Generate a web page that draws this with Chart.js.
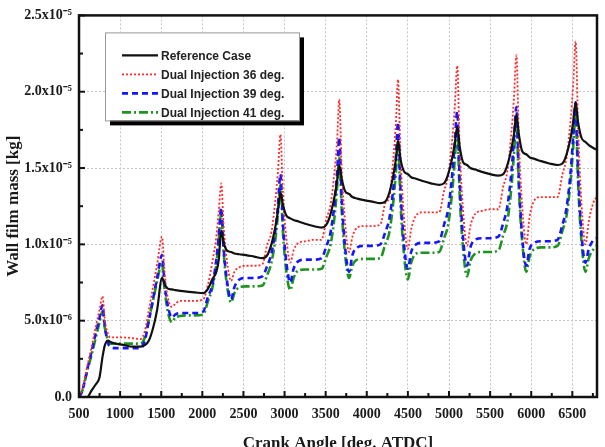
<!DOCTYPE html>
<html>
<head>
<meta charset="utf-8">
<script src="https://cdn.jsdelivr.net/npm/chart.js@4.4.1/dist/chart.umd.min.js"></script>
<style>
  html, body { margin: 0; padding: 0; background: #fff; }
</style>
</head>
<body>
<canvas id="filmChart" width="605" height="447"></canvas>
<script>
// crank angle [deg. ATDC]
var crankAngle = [
  500, 540, 600, 650, 700, 750, 785, 815, 855, 880, 950, 1050, 1150, 1250, 1300, 1350, 1400, 1450,
  1510, 1540, 1580, 1630, 1670, 1730, 1810, 1910, 2010, 2070, 2120, 2170, 2200,
  2230, 2260, 2300, 2350, 2390, 2450, 2530, 2630, 2730, 2790, 2840, 2890, 2920,
  2950, 2980, 3020, 3070, 3110, 3170, 3250, 3350, 3450, 3510, 3560, 3610, 3640,
  3665, 3695, 3735, 3785, 3825, 3885, 3965, 4065, 4165, 4225, 4275, 4325, 4355,
  4380, 4410, 4450, 4500, 4540, 4600, 4680, 4780, 4880, 4940, 4990, 5040, 5070,
  5100, 5130, 5170, 5220, 5260, 5320, 5400, 5500, 5600, 5660, 5710, 5760, 5790,
  5820, 5850, 5890, 5940, 5980, 6040, 6120, 6220, 6320, 6380, 6430, 6480, 6510,
  6540, 6570, 6610, 6660, 6700, 6760, 6800
];

// wall film mass, in units of 1e-6 kg
var refCase = [
  0, 0, 0, 0.4, 0.8, 1.3, 2.6, 3.4, 3.7, 3.6, 3.5, 3.4, 3.3, 3.3, 3.4, 3.7, 4.5, 5.7,
  7.8, 7.4, 7.1, 7.05, 7.0, 6.95, 6.9, 6.85, 6.8, 7.1, 7.7, 8.2, 9.0,
  10.9, 10.1, 9.6, 9.5, 9.4, 9.35, 9.3, 9.2, 9.1, 9.3, 10.0, 11.2, 12.2,
  13.4, 12.6, 11.9, 11.7, 11.6, 11.5, 11.35, 11.2, 11.1, 11.3, 12.0, 13.2, 14.2,
  15.2, 14.3, 13.5, 13.3, 13.1, 13.0, 12.9, 12.8, 12.7, 12.8, 13.4, 14.6, 15.6,
  16.8, 15.6, 14.8, 14.6, 14.4, 14.3, 14.15, 14.0, 13.9, 14.0, 14.6, 15.7, 16.6,
  17.7, 16.4, 15.4, 15.2, 15.0, 14.9, 14.75, 14.6, 14.5, 14.6, 15.2, 16.3, 17.2,
  18.5, 17.2, 16.1, 15.9, 15.7, 15.6, 15.45, 15.3, 15.2, 15.3, 15.9, 17.0, 18.0,
  19.3, 18.0, 17.0, 16.7, 16.5, 16.3, 16.2
];
var dual36 = [
  0, 0.5, 2.0, 3.2, 4.5, 5.7, 6.6, 5.0, 4.1, 3.9, 3.9, 3.9, 3.85, 3.8, 4.3, 5.7, 7.2, 8.7,
  10.5, 8.2, 6.5, 5.9, 6.1, 6.3, 6.3, 6.3, 6.4, 7.4, 8.8, 10.5, 12.2,
  14.0, 11.1, 8.9, 7.6, 8.2, 8.5, 8.6, 8.6, 8.7, 10.0, 10.8, 13.0, 14.8,
  17.2, 13.4, 10.5, 8.8, 9.6, 10.1, 10.2, 10.3, 10.3, 11.7, 12.6, 14.9, 16.9,
  19.5, 15.0, 11.5, 9.5, 10.5, 11.1, 11.2, 11.2, 11.3, 12.7, 13.1, 15.8, 18.0,
  20.8, 15.8, 11.9, 9.7, 11.0, 11.9, 12.1, 12.1, 12.1, 13.5, 14.5, 16.9, 19.0,
  21.7, 16.4, 12.3, 9.9, 11.2, 12.0, 12.2, 12.3, 12.3, 13.8, 14.8, 17.4, 19.6,
  22.4, 16.8, 12.5, 10.0, 11.8, 12.9, 13.1, 13.1, 13.1, 14.6, 15.7, 18.2, 20.4,
  23.3, 17.7, 12.8, 10.0, 11.5, 12.8, 13.1
];
var dual39 = [
  0, 0.4, 1.8, 2.9, 4.1, 5.2, 6.0, 4.6, 3.5, 3.3, 3.2, 3.2, 3.2, 3.2, 3.7, 5.0, 6.4, 7.8,
  9.3, 7.5, 6.0, 5.2, 5.4, 5.5, 5.5, 5.5, 5.6, 6.6, 7.3, 9.0, 10.6,
  12.4, 9.7, 7.6, 6.4, 7.2, 7.7, 7.8, 7.8, 7.9, 8.6, 9.4, 11.0, 12.6,
  14.6, 11.4, 8.9, 7.5, 8.4, 8.9, 9.0, 9.0, 9.1, 9.9, 10.8, 12.8, 14.8,
  17.0, 13.0, 9.9, 8.2, 9.3, 9.8, 9.9, 9.9, 10.0, 10.8, 11.7, 13.8, 15.8,
  18.0, 13.7, 10.2, 8.4, 9.5, 10.0, 10.1, 10.1, 10.2, 11.3, 12.3, 14.6, 16.6,
  18.7, 14.2, 10.5, 8.6, 9.8, 10.3, 10.4, 10.4, 10.5, 11.4, 12.5, 14.8, 16.9,
  19.0, 14.3, 10.5, 8.6, 9.7, 10.1, 10.2, 10.2, 10.3, 11.3, 12.4, 14.8, 17.0,
  19.3, 14.8, 10.8, 8.8, 9.7, 10.3, 10.4
];
var dual41 = [
  0, 0.4, 1.7, 2.7, 3.8, 4.9, 5.6, 4.5, 3.7, 3.5, 3.5, 3.5, 3.5, 3.5, 3.9, 5.1, 6.3, 7.6,
  8.8, 7.1, 5.6, 4.9, 5.2, 5.3, 5.35, 5.35, 5.4, 6.3, 7.1, 8.7, 10.3,
  12.0, 9.4, 7.3, 6.2, 6.8, 7.2, 7.25, 7.25, 7.3, 8.0, 8.8, 10.4, 12.0,
  13.9, 10.8, 8.3, 7.0, 7.8, 8.3, 8.35, 8.35, 8.4, 9.2, 10.0, 11.9, 13.8,
  15.8, 12.2, 9.4, 7.8, 8.6, 9.0, 9.05, 9.05, 9.1, 10.0, 10.8, 12.9, 14.8,
  16.8, 12.7, 9.5, 7.7, 8.8, 9.4, 9.45, 9.45, 9.5, 10.4, 11.3, 13.5, 15.5,
  17.5, 13.2, 9.8, 7.9, 8.9, 9.4, 9.5, 9.5, 9.6, 10.6, 11.5, 13.8, 15.9,
  18.0, 13.6, 10.2, 8.2, 9.2, 9.7, 9.8, 9.8, 9.9, 10.9, 11.9, 14.2, 16.3,
  18.5, 14.0, 10.3, 8.2, 9.1, 9.7, 9.9
];

var seriesNames = ["Reference Case", "Dual Injection 36 deg.", "Dual Injection 39 deg.", "Dual Injection 41 deg."];

var xTickValues = [500, 1000, 1500, 2000, 2500, 3000, 3500, 4000, 4500, 5000, 5500, 6000, 6500];
var yTickValues = [0, 5, 10, 15, 20, 25];
var yTickLabels = ["0.0", "5.0x10\u207B\u2076", "1.0x10\u207B\u2075", "1.5x10\u207B\u2075", "2.0x10\u207B\u2075", "2.5x10\u207B\u2075"];

function points(values) {
  return crankAngle.map(function (x, i) { return { x: x, y: values[i] }; });
}

var serif = "'Liberation Serif', 'Times New Roman', serif";

// frame, inward ticks, axis titles and the boxed legend
var extras = {
  id: 'extras',
  afterDraw: function (chart) {
    var ctx = chart.ctx;
    var a = chart.chartArea;
    var xs = chart.scales.x, ys = chart.scales.y;
    ctx.save();

    ctx.strokeStyle = '#111';
    ctx.lineWidth = 2;
    var i, px, py;
    for (i = 0; i < xTickValues.length; i++) {
      px = xs.getPixelForValue(xTickValues[i]);
      ctx.beginPath(); ctx.moveTo(px, a.bottom); ctx.lineTo(px, a.bottom - 6); ctx.stroke();
      px = xs.getPixelForValue(xTickValues[i] + 250);
      ctx.beginPath(); ctx.moveTo(px, a.bottom); ctx.lineTo(px, a.bottom - 4); ctx.stroke();
    }
    for (i = 0; i < yTickValues.length; i++) {
      py = ys.getPixelForValue(yTickValues[i]);
      ctx.beginPath(); ctx.moveTo(a.left, py); ctx.lineTo(a.left + 6, py); ctx.stroke();
      if (i < yTickValues.length - 1) {
        py = ys.getPixelForValue(yTickValues[i] + 2.5);
        ctx.beginPath(); ctx.moveTo(a.left, py); ctx.lineTo(a.left + 4, py); ctx.stroke();
      }
    }

    ctx.lineWidth = 2.5;
    ctx.strokeRect(a.left, a.top, a.right - a.left, a.bottom - a.top);

    // axis titles
    ctx.fillStyle = '#1a1a1a';
    ctx.font = "bold 17px " + serif;
    ctx.textAlign = 'center';
    ctx.textBaseline = 'top';
    ctx.fillText("Crank Angle [deg. ATDC]", (a.left + a.right) / 2, 435);
    ctx.save();
    ctx.translate(14, (a.top + a.bottom) / 2);
    ctx.rotate(-Math.PI / 2);
    ctx.textBaseline = 'middle';
    ctx.fillText("Wall film mass [kg]", 0, 0);
    ctx.restore();

    // legend box with drop shadow
    var bx = a.left + 26, by = a.top + 17, bw = 194, bh = 88;
    ctx.fillStyle = '#000';
    ctx.fillRect(bx + 5, by + 5, bw, bh);
    ctx.fillStyle = '#fff';
    ctx.fillRect(bx, by, bw, bh);
    ctx.lineWidth = 1;
    ctx.strokeStyle = '#999';
    ctx.strokeRect(bx + 0.5, by + 0.5, bw, bh);

    ctx.font = "bold 12px 'Liberation Sans', Arial, sans-serif";
    ctx.textAlign = 'left';
    ctx.textBaseline = 'middle';
    var ds = chart.data.datasets;
    for (i = 0; i < ds.length; i++) {
      var ry = by + 23 + i * 19;
      ctx.strokeStyle = ds[i].borderColor;
      ctx.lineWidth = ds[i].borderWidth;
      ctx.setLineDash(ds[i].borderDash || []);
      ctx.beginPath(); ctx.moveTo(bx + 17, ry); ctx.lineTo(bx + 53, ry); ctx.stroke();
      ctx.setLineDash([]);
      ctx.fillStyle = '#222';
      ctx.fillText(ds[i].label, bx + 56, ry + 1);
    }
    ctx.restore();
  }
};

new Chart(document.getElementById("filmChart"), {
  type: 'line',
  data: {
    datasets: [
      { label: seriesNames[0], data: points(refCase), borderColor: '#111', borderWidth: 2.2, borderDash: [] },
      { label: seriesNames[1], data: points(dual36), borderColor: '#ff2a2a', borderWidth: 1.8, borderDash: [2, 2] },
      { label: seriesNames[2], data: points(dual39), borderColor: '#1515ff', borderWidth: 2.6, borderDash: [6, 4] },
      { label: seriesNames[3], data: points(dual41), borderColor: '#1f931f', borderWidth: 2.6, borderDash: [9, 3, 2, 3] }
    ]
  },
  options: {
    responsive: false,
    animation: false,
    devicePixelRatio: 1,
    layout: { padding: { top: 13, right: 8, left: 0, bottom: 0 } },
    elements: {
      point: { radius: 0 },
      line: { cubicInterpolationMode: 'monotone', fill: false }
    },
    plugins: { legend: { display: false }, tooltip: { enabled: false } },
    scales: {
      x: {
        type: 'linear',
        min: 500,
        max: 6800,
        afterBuildTicks: function (scale) {
          scale.ticks = xTickValues.map(function (v) { return { value: v }; });
        },
        afterFit: function (scale) { scale.height = 50; },
        grid: { color: '#c4c4c4', lineWidth: 1, drawTicks: false },
        border: { display: false, dash: [2, 2] },
        ticks: {
          autoSkip: false,
          maxRotation: 0,
          padding: 9,
          color: '#1a1a1a',
          font: { family: serif, size: 14, weight: 'bold' },
          callback: function (v) { return String(v); }
        }
      },
      y: {
        min: 0,
        max: 25,
        afterBuildTicks: function (scale) {
          scale.ticks = yTickValues.map(function (v) { return { value: v }; });
        },
        afterFit: function (scale) { scale.width = 79; },
        grid: { color: '#c4c4c4', lineWidth: 1, drawTicks: false },
        border: { display: false, dash: [2, 2] },
        ticks: {
          padding: 7,
          color: '#1a1a1a',
          font: { family: serif, size: 14, weight: 'bold' },
          callback: function (v) { return yTickLabels[yTickValues.indexOf(v)]; }
        }
      }
    }
  },
  plugins: [extras]
});
</script>
</body>
</html>
